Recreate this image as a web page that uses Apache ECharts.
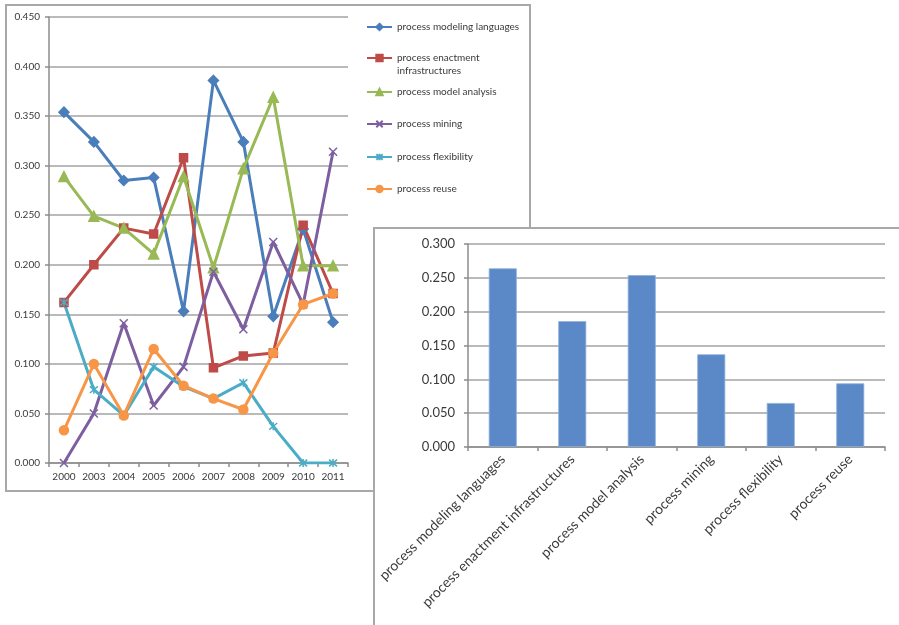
<!DOCTYPE html>
<html>
<head>
<meta charset="utf-8">
<script src="https://cdn.jsdelivr.net/npm/echarts@6/dist/echarts.min.js"></script>
<style>
  html, body { margin: 0; padding: 0; background: #ffffff; }
  #chart { width: 899px; height: 625px; }
</style>
</head>
<body>
<div id="chart"></div>
<script>
// Years shown on the line chart
const years = ['2000', '2003', '2004', '2005', '2006', '2007', '2008', '2009', '2010', '2011'];

// Topic names (legend entries and bar categories)
const topics = [
  'process modeling languages',
  'process enactment infrastructures',
  'process model analysis',
  'process mining',
  'process flexibility',
  'process reuse'
];

// Yearly share per topic
const modelingLanguages = [0.354, 0.324, 0.285, 0.288, 0.153, 0.386, 0.324, 0.148, 0.236, 0.142];
const enactmentInfra    = [0.162, 0.200, 0.237, 0.231, 0.308, 0.096, 0.108, 0.111, 0.240, 0.171];
const modelAnalysis     = [0.289, 0.249, 0.237, 0.211, 0.289, 0.197, 0.297, 0.369, 0.199, 0.199];
const mining            = [0.000, 0.050, 0.141, 0.058, 0.097, 0.193, 0.135, 0.223, 0.160, 0.314];
const flexibility       = [0.162, 0.074, 0.048, 0.097, 0.077, 0.065, 0.081, 0.037, 0.000, 0.000];
const reuse             = [0.033, 0.100, 0.048, 0.115, 0.078, 0.065, 0.054, 0.111, 0.160, 0.171];

// Overall share per topic (bar chart)
const overallShare = [0.264, 0.186, 0.254, 0.137, 0.065, 0.094];

// Y-axis tick values
const lineTicks = [0, 0.05, 0.10, 0.15, 0.20, 0.25, 0.30, 0.35, 0.40, 0.45];
const barTicks  = [0, 0.05, 0.10, 0.15, 0.20, 0.25, 0.30];

const FONT = 'Lato';
const TEXT = '#3a3a3a';
const GRID = '#a3a3a3';
const AXIS = '#8c8c8c';

const palette = ['#4a7ebb', '#be4b48', '#98b954', '#7d5fa0', '#4bacc6', '#f79646'];
const seriesData = [modelingLanguages, enactmentInfra, modelAnalysis, mining, flexibility, reuse];
const symbols = [
  'diamond',
  'rect',
  'triangle',
  'path://M0,0L10,10M10,0L0,10',
  'path://M0,0L10,10M10,0L0,10M5,-1L5,11',
  'circle'
];
const symbolSizes = [10, 8, 10, 8, 8, 9];
const legendCenters = [27, 58, 92, 124, 157, 189];
const LEGEND_ICON_H = 8;
const LEGEND_LINE_H = 13;

const chart = echarts.init(document.getElementById('chart'), null, { renderer: 'canvas' });

const lineSeries = topics.map((name, i) => ({
  name: name,
  type: 'line',
  xAxisIndex: 0,
  yAxisIndex: 0,
  data: seriesData[i],
  symbol: symbols[i],
  symbolSize: symbolSizes[i],
  showAllSymbol: true,
  lineStyle: { width: 3, color: palette[i] },
  itemStyle: { color: palette[i], borderColor: palette[i], borderWidth: 1.5 },
  emphasis: { disabled: true },
  animation: false
}));

const legends = topics.map((name, i) => {
  const twoLine = name === 'process enactment infrastructures';
  // a two-line label is three text rows tall (blank row above keeps the icon on the first row)
  const halfBlock = twoLine ? 1.5 * LEGEND_LINE_H : LEGEND_LINE_H / 2;
  return {
    data: [name],
    orient: 'vertical',
    left: 366,
    top: legendCenters[i] - halfBlock,
    padding: 0,
    itemWidth: 25,
    itemHeight: LEGEND_ICON_H,
    selectedMode: false,
    formatter: twoLine ? '\nprocess enactment\ninfrastructures' : '{name}',
    textStyle: { fontFamily: FONT, fontSize: 10, color: TEXT, lineHeight: LEGEND_LINE_H }
  };
});

const option = {
  backgroundColor: '#ffffff',
  animation: false,
  color: palette,
  graphic: [
    {
      type: 'rect',
      z: -20,
      shape: { x: 6, y: 5, width: 524, height: 486 },
      style: { fill: '#ffffff', stroke: '#a8a8a8', lineWidth: 2 }
    },
    {
      type: 'rect',
      z: -10,
      shape: { x: 374, y: 228, width: 600, height: 500 },
      style: { fill: '#ffffff', stroke: '#a8a8a8', lineWidth: 2 }
    }
  ],
  legend: legends,
  grid: [
    { left: 49, top: 17, width: 299, height: 446, containLabel: false },
    { left: 468, top: 244, width: 417, height: 203, containLabel: false }
  ],
  xAxis: [
    {
      gridIndex: 0,
      type: 'category',
      data: years,
      boundaryGap: true,
      axisLine: { lineStyle: { color: AXIS, width: 1.5 } },
      axisTick: { show: true, length: 4, lineStyle: { color: AXIS, width: 1.5 } },
      axisLabel: { fontFamily: FONT, fontSize: 10, color: TEXT, margin: 9, interval: 0 },
      splitLine: { show: false }
    },
    {
      gridIndex: 1,
      type: 'category',
      data: topics,
      boundaryGap: true,
      axisLine: { lineStyle: { color: AXIS, width: 1.5 } },
      axisTick: { show: true, length: 4, lineStyle: { color: AXIS, width: 1.5 } },
      axisLabel: { fontFamily: FONT, fontSize: 14, color: TEXT, rotate: 45, margin: 10, interval: 0 },
      splitLine: { show: false }
    }
  ],
  yAxis: [
    {
      gridIndex: 0,
      type: 'value',
      min: lineTicks[0],
      max: lineTicks[lineTicks.length - 1],
      interval: 0.05,
      axisLine: { show: true, lineStyle: { color: AXIS, width: 1.5 } },
      axisTick: { show: true, length: 4, lineStyle: { color: AXIS, width: 1.5 } },
      axisLabel: { fontFamily: FONT, fontSize: 10, color: TEXT, margin: 9, formatter: v => v.toFixed(3) },
      splitLine: { show: true, lineStyle: { color: GRID, width: 1.5 } }
    },
    {
      gridIndex: 1,
      type: 'value',
      min: barTicks[0],
      max: barTicks[barTicks.length - 1],
      interval: 0.05,
      axisLine: { show: true, lineStyle: { color: AXIS, width: 1.5 } },
      axisTick: { show: true, length: 4, lineStyle: { color: AXIS, width: 1.5 } },
      axisLabel: { fontFamily: FONT, fontSize: 13, color: TEXT, margin: 13, formatter: v => v.toFixed(3) },
      splitLine: { show: true, lineStyle: { color: GRID, width: 1.5 } }
    }
  ],
  series: lineSeries.concat([
    {
      name: 'overall',
      type: 'bar',
      xAxisIndex: 1,
      yAxisIndex: 1,
      data: overallShare,
      barWidth: 28,
      itemStyle: { color: '#5b88c6', borderColor: '#8fb0dc', borderWidth: 0.8 },
      emphasis: { disabled: true },
      animation: false
    }
  ])
};

chart.setOption(option);
</script>
</body>
</html>
